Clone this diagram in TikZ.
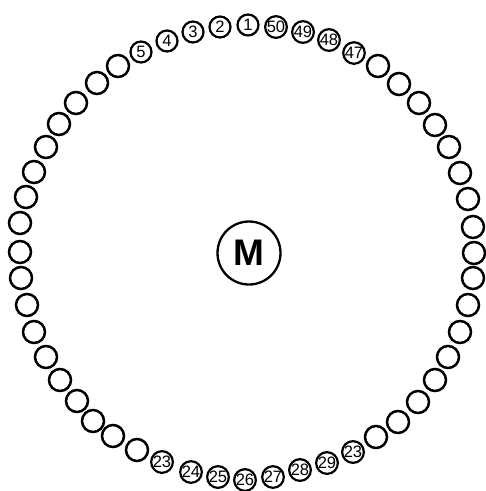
\documentclass[tikz,border=0pt]{standalone}
\usepackage{fontspec}
\setmainfont{Liberation Sans}

\begin{document}
\begin{tikzpicture}[x=1pt, y=-1pt,
  seat/.style={draw, circle, line width=2.5pt, minimum size=22pt, inner sep=0pt},
  numseat/.style={seat, line width=2.2pt, minimum size=21pt, font=\fontsize{16.5}{16.5}\selectfont},
  motor/.style={draw, circle, line width=2.3pt, minimum size=63pt, inner sep=0pt, font=\bfseries\fontsize{37}{37}\selectfont}
]
\useasboundingbox (0,0) rectangle (486,491);

% centre
\node[motor] (m) at (249,253) {M};

% numbered seats, top
\foreach \i/\px/\py/\t in {1/248/25/1, 2/220/27/2, 3/193/32/3, 4/167/41/4, 5/141/52/5,
  49/354/53/47, 50/329/40/48, 51/303/32/49, 52/276/27/50}
  \node[numseat] (s\i) at (\px,\py) {\t};

% numbered seats, bottom
\foreach \i/\px/\py/\t in {24/162/462/23, 25/191/472/24, 26/218/477/25, 27/245/480/26,
  28/273/477/27, 29/300/470/28, 30/327/463/29, 31/353/452/23}
  \node[numseat] (s\i) at (\px,\py) {\t};

% left side
\foreach \i/\px/\py in {6/118/66, 7/97/83, 8/76/103, 9/59/124, 10/46/147, 11/34/172,
  12/26/197, 13/20/223, 14/20/252, 15/21/278, 16/27/305, 17/34/332, 18/46/357,
  19/60/380, 20/77/401, 21/93/421, 22/113/436, 23/137/450}
  \node[seat] (s\i) at (\px,\py) {};

% right side
\foreach \i/\px/\py in {32/376/437, 33/398/422, 34/418/402, 35/435/380, 36/448/357,
  37/460/332, 38/468/305, 39/473/278, 40/474/253, 41/473/227, 42/468/199,
  43/460/173, 44/449/147, 45/435/125, 46/419/103, 47/399/84, 48/378/66}
  \node[seat] (s\i) at (\px,\py) {};
\end{tikzpicture}
\end{document}
